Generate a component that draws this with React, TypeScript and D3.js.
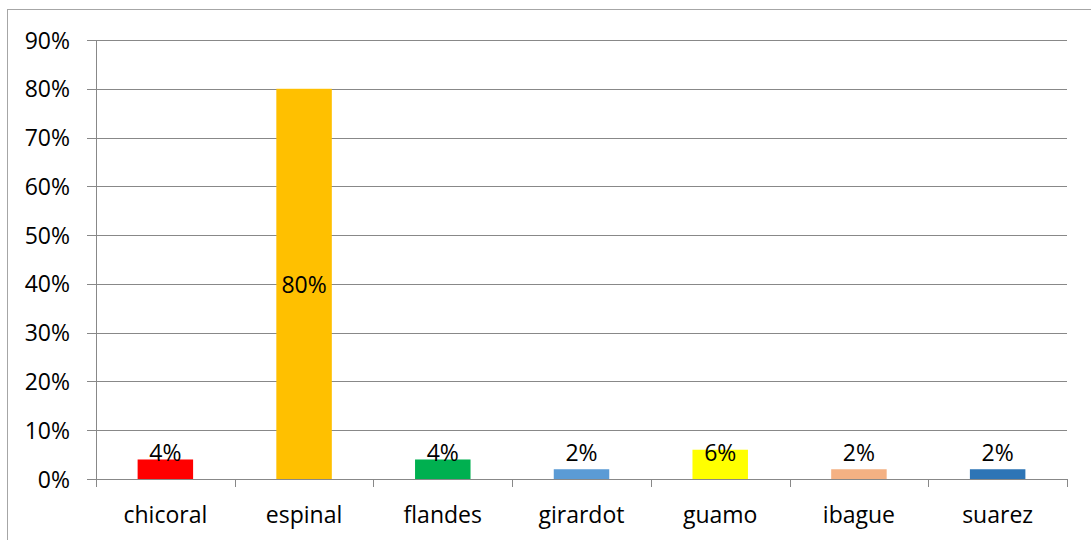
import React from "react";
import * as d3 from "d3";

const categories = ["chicoral", "espinal", "flandes", "girardot", "guamo", "ibague", "suarez"];
const values = [0.04, 0.8, 0.04, 0.02, 0.06, 0.02, 0.02];
const colors = ["#FF0000", "#FFC000", "#00B050", "#5B9BD5", "#FFFF00", "#F4B183", "#2E75B6"];
const yTicks = [0, 0.1, 0.2, 0.3, 0.4, 0.5, 0.6, 0.7, 0.8, 0.9];

const W = 1091;
const H = 540;
const left = 96;
const right = 1067;
const top = 40;
const bottom = 479;
const font = "'Open Sans', 'Liberation Sans', Arial, sans-serif";

export default function App() {
  const x = d3.scaleBand<string>().domain(categories).range([left, right]).paddingInner(0.6).paddingOuter(0.3);
  const xb = d3.scaleBand<string>().domain(categories).range([left, right]);
  const y = d3.scaleLinear().domain([0, 0.9]).range([bottom, top]);
  const fmt = d3.format(".0%");
  const grid = "#888888";
  return (
    <div style={{ position: "absolute", left: 0, top: 0 }}>
      <svg width={W} height={H} style={{ display: "block" }} fontFamily={font}>
        <rect x={0} y={0} width={W} height={H} fill="#fff" />
        <rect x={7.5} y={9.5} width={1200} height={800} fill="none" stroke="#A6A6A6" strokeWidth={1} />
        {yTicks.map((t) => (
          <g key={t}>
            <line x1={left - 9} x2={right} y1={Math.round(y(t)) + 0.5} y2={Math.round(y(t)) + 0.5} stroke={grid} strokeWidth={1} />
            <text x={70} y={y(t) + 8.5} textAnchor="end" fontSize={23} fill="#000">{fmt(t)}</text>
          </g>
        ))}
        <line x1={left + 0.5} x2={left + 0.5} y1={top} y2={bottom + 8} stroke={grid} />
        {categories.map((c) => (
          <line key={"t" + c} x1={Math.round((xb(c) as number) + xb.bandwidth()) + 0.5} x2={Math.round((xb(c) as number) + xb.bandwidth()) + 0.5} y1={bottom} y2={bottom + 8} stroke={grid} />
        ))}
        {categories.map((c, i) => (
          <rect key={c} x={x(c)} width={x.bandwidth()} y={y(values[i])} height={y(0) - y(values[i])} fill={colors[i]} />
        ))}
        {categories.map((c, i) => {
          const cx = (x(c) as number) + x.bandwidth() / 2;
          const inside = values[i] > 0.5;
          const ty = inside ? (y(values[i]) + y(0)) / 2 + 9 : y(0) - 18;
          return (
            <text key={"l" + c} x={cx} y={ty} textAnchor="middle" fontSize={23} fill="#000">{fmt(values[i])}</text>
          );
        })}
        {categories.map((c) => (
          <text key={"x" + c} x={(xb(c) as number) + xb.bandwidth() / 2} y={523} textAnchor="middle" fontSize={23} fill="#000">{c}</text>
        ))}
      </svg>
    </div>
  );
}
